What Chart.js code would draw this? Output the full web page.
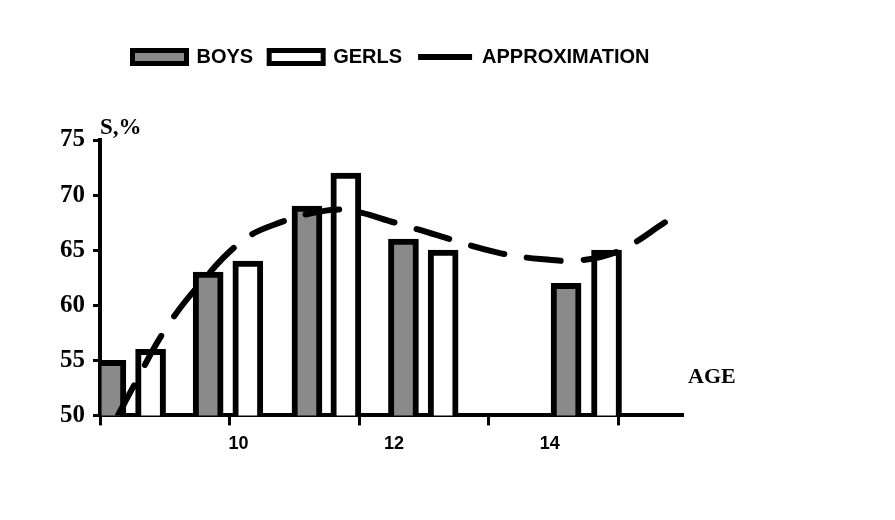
<!DOCTYPE html>
<html>
<head>
<meta charset="utf-8">
<script src="https://cdn.jsdelivr.net/npm/chart.js@4"></script>
<style>
  html, body { margin: 0; padding: 0; background: #fff; }
</style>
</head>
<body>
<canvas id="chart" width="895" height="520"></canvas>
<script>
// bar centres in years (they don't sit on whole ages)
const boysAge = [8.36, 9.61, 10.88, 12.12, 14.21];
const boysValues = [55, 63, 69, 66, 62];
const girlsAge = [8.87, 10.12, 11.38, 12.63, 14.73];
const girlsValues = [56, 64, 72, 65, 65];

// dashed approximation curve
const approxAge = [8.45, 8.64, 9.05, 9.50, 10.06, 10.53, 11.05, 11.43, 12.01, 12.53, 13.32, 13.88, 14.42, 14.91, 15.52];
const approxValues = [50.0, 52.5, 57.7, 61.9, 65.9, 67.5, 68.5, 68.6, 67.5, 66.4, 64.8, 64.2, 64.1, 65.0, 67.7];

const xLabels = [10, 12, 14];
const xTickMarks = [8.22, 9.88, 11.55, 13.21, 14.88];
const yTicks = [50, 55, 60, 65, 70, 75];

const xMin = 8.22, xMax = 15.70;

const toPoints = (xs, ys) => xs.map((x, i) => ({ x: x, y: ys[i] }));

// "AGE" sits right of the x axis end
const ageLabel = {
  id: 'ageLabel',
  afterDraw(chart) {
    const ctx = chart.ctx;
    const area = chart.chartArea;
    ctx.save();
    ctx.font = 'bold 22px "Liberation Serif"';
    ctx.fillStyle = '#000';
    ctx.textBaseline = 'middle';
    ctx.fillText('AGE', area.right + 6, chart.scales.y.getPixelForValue(53.5));
    ctx.restore();
  }
};

new Chart(document.getElementById('chart'), {
  type: 'bar',
  data: {
    datasets: [{
      label: 'BOYS',
      data: toPoints(boysAge, boysValues),
      backgroundColor: '#8a8a8a',
      borderColor: '#000',
      borderWidth: 6,
      barThickness: 30,
      grouped: false,
      clip: 0,
      order: 1
    }, {
      label: 'GERLS',
      data: toPoints(girlsAge, girlsValues),
      backgroundColor: '#fff',
      borderColor: '#000',
      borderWidth: 6,
      barThickness: 30,
      grouped: false,
      clip: 0,
      order: 1
    }, {
      type: 'line',
      label: 'APPROXIMATION',
      data: toPoints(approxAge, approxValues),
      borderColor: '#000',
      borderWidth: 6,
      borderDash: [34, 23],
      borderCapStyle: 'round',
      pointRadius: 0,
      tension: 0.4,
      fill: false,
      clip: 0,
      order: 0
    }]
  },
  options: {
    responsive: false,
    animation: false,
    devicePixelRatio: 1,
    layout: { padding: { top: 31, left: 40, right: 213, bottom: 57 } },
    plugins: {
      tooltip: { enabled: false },
      legend: {
        fullSize: false,
        labels: {
          usePointStyle: true,
          pointStyleWidth: 54,
          boxHeight: 13,
          padding: 16,
          color: '#000',
          font: { family: '"Liberation Sans"', size: 20, weight: 'bold' },
          generateLabels: chart => chart.data.datasets.map((ds, i) => ({
            text: ds.label,
            datasetIndex: i,
            fillStyle: ds.type === 'line' ? '#000' : ds.backgroundColor,
            strokeStyle: '#000',
            lineWidth: ds.type === 'line' ? 6 : 5,
            lineCap: 'butt',
            lineDash: [],
            pointStyle: ds.type === 'line' ? 'line' : 'rect',
            fontColor: '#000',
            hidden: false
          }))
        }
      },
      subtitle: {
        display: true,
        text: 'S,%',
        align: 'start',
        fullSize: false,
        weight: 500,
        color: '#000',
        font: { family: '"Liberation Serif"', size: 23, weight: 'bold', lineHeight: 1 },
        padding: { top: 40, bottom: 0 }
      }
    },
    scales: {
      x: {
        type: 'linear',
        min: xMin,
        max: xMax,
        bounds: 'data',
        offset: false,
        z: 1,
        afterBuildTicks: axis => { axis.ticks = xTickMarks.map(v => ({ value: v })); },
        ticks: { display: false },
        grid: { offset: false, drawOnChartArea: false, tickLength: 10, lineWidth: 3, color: '#000' },
        border: { display: true, width: 4, color: '#000' }
      },
      x2: {
        type: 'linear',
        position: 'bottom',
        min: xMin,
        max: xMax,
        bounds: 'data',
        offset: false,
        afterBuildTicks: axis => { axis.ticks = xLabels.map(v => ({ value: v })); },
        ticks: {
          color: '#000',
          padding: 8,
          maxRotation: 0,
          font: { family: '"Liberation Sans"', size: 18, weight: 'bold' }
        },
        grid: { display: false, drawTicks: false },
        border: { display: false }
      },
      y: {
        min: 50,
        max: 75,
        z: 1,
        afterBuildTicks: axis => { axis.ticks = yTicks.map(v => ({ value: v })); },
        afterFit: axis => { axis.width = 60; },
        ticks: {
          color: '#000',
          padding: 8,
          font: { family: '"Liberation Serif"', size: 25, weight: 'bold' }
        },
        grid: { drawOnChartArea: false, tickLength: 7, lineWidth: 3, color: '#000' },
        border: { display: true, width: 4, color: '#000' }
      }
    }
  },
  plugins: [ageLabel]
});
</script>
</body>
</html>
